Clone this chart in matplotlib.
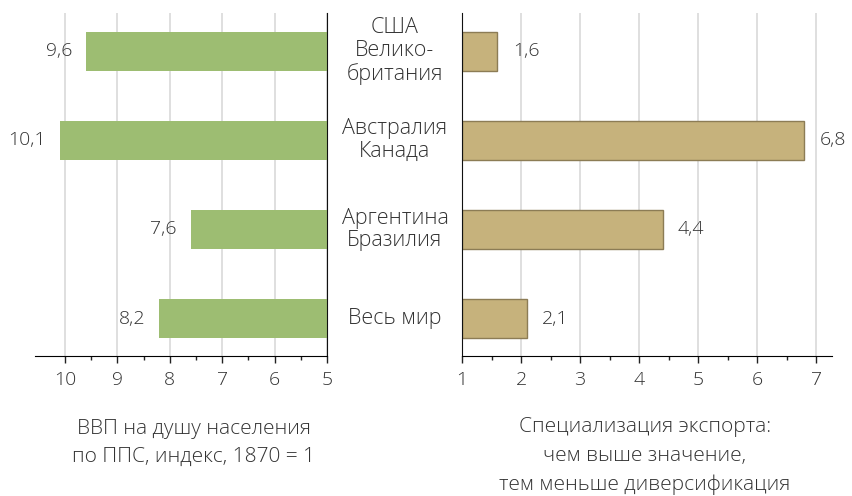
import matplotlib
matplotlib.use("Agg")
import matplotlib.pyplot as plt
from matplotlib.transforms import blended_transform_factory
from matplotlib.ticker import FixedLocator

# Data
groups = ["США\nВелико-\nбритания", "Австралия\nКанада", "Аргентина\nБразилия", "Весь мир"]
gdp = [9.6, 10.1, 7.6, 8.2]
spec = [1.6, 6.8, 4.4, 2.1]
gdp_labels = ["9,6", "10,1", "7,6", "8,2"]
spec_labels = ["1,6", "6,8", "4,4", "2,1"]
gdp_ticks = [10, 9, 8, 7, 6, 5]
spec_ticks = [1, 2, 3, 4, 5, 6, 7]

plt.rcParams["font.family"] = ["Open Sans", "DejaVu Sans"]
plt.rcParams["font.weight"] = "light"
txt = "#333333"
green = "#9dbd72"
tan = "#c6b27c"
grid = "#dcdcdc"

W, H = 853, 496
fig = plt.figure(figsize=(W / 100, H / 100), dpi=100)

def px_axes(x0, x1, y0, y1):
    return fig.add_axes([x0 / W, 1 - y1 / H, (x1 - x0) / W, (y1 - y0) / H])

ax1 = px_axes(35, 327, 13, 356)
ax2 = px_axes(462, 832, 13, 356)

ypos = list(range(len(groups)))

for ax in (ax1, ax2):
    ax.set_ylim(3.42, -0.43)
    ax.set_yticks([])
    ax.spines["top"].set_visible(False)
    ax.tick_params(axis="x", direction="out", length=5, width=1, colors="#222222",
                   labelcolor=txt, labelsize=14, pad=6)
    ax.tick_params(axis="x", which="minor", length=3, width=1, colors="#222222")
    ax.set_axisbelow(True)
    ax.grid(axis="x", color=grid, linewidth=1.3)

# left panel
ax1.set_xlim(10.57, 5)
ax1.set_xticks(gdp_ticks)
ax1.xaxis.set_minor_locator(FixedLocator([9.5, 8.5, 7.5, 6.5, 5.5]))
ax1.spines["left"].set_visible(False)
ax1.spines["right"].set_color("#111111")
ax1.barh(ypos, [g - 5 for g in gdp], left=5, height=0.44, color=green)
for y, v, lab in zip(ypos, gdp, gdp_labels):
    ax1.annotate(lab, (v, y), xytext=(-10, 0), textcoords="offset points",
                 ha="right", va="center", fontsize=14, color=txt)

# right panel
ax2.set_xlim(1, 7.27)
ax2.set_xticks(spec_ticks)
ax2.xaxis.set_minor_locator(FixedLocator([1.5, 2.5, 3.5, 4.5, 5.5, 6.5]))
ax2.spines["right"].set_visible(False)
ax2.spines["left"].set_color("#111111")
ax2.barh(ypos, [s - 1 for s in spec], left=1, height=0.44, color=tan,
         edgecolor="#8c7c55", linewidth=1)
for y, v, lab in zip(ypos, spec, spec_labels):
    ax2.annotate(lab, (v, y), xytext=(11, 0), textcoords="offset points",
                 ha="left", va="center", fontsize=14, color=txt)

# category labels between the panels
tr = blended_transform_factory(fig.transFigure, ax2.transData)
for y, g in zip(ypos, groups):
    fig.text(395 / W, y, g, transform=tr, ha="center", va="center",
             fontsize=15.5, color=txt, linespacing=1.12)

fig.text(194 / W, 1 - 443 / H, "ВВП на душу населения\nпо ППС, индекс, 1870 = 1",
         ha="center", va="center", fontsize=15, color=txt, linespacing=1.55)
fig.text(645 / W, 1 - 456 / H,
         "Специализация экспорта:\nчем выше значение,\nтем меньше диверсификация",
         ha="center", va="center", fontsize=15, color=txt, linespacing=1.55)

fig.savefig("out.png", dpi=100)
